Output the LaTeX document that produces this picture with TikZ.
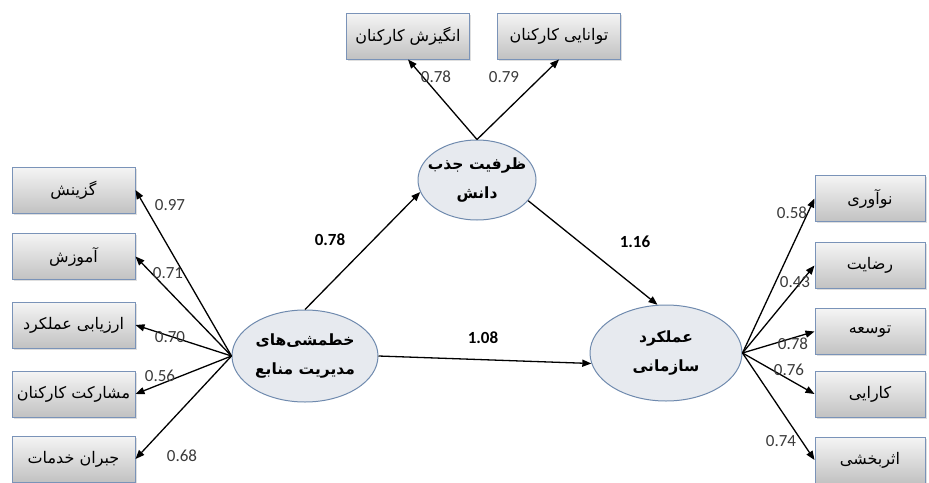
\documentclass[tikz,border=0pt]{standalone}
\usepackage{fontspec}
\setmainfont{Carlito}
\newfontfamily\fa[Script=Arabic]{DejaVu Sans}
\TeXXeTstate=1
\usetikzlibrary{arrows.meta,shadows,shapes.geometric}
\definecolor{boxline}{HTML}{7A93B8}
\definecolor{ellline}{HTML}{6F8AAE}
\definecolor{ellfill}{HTML}{E7EAEF}
\definecolor{numtext}{HTML}{3A3A3A}

\begin{document}
\begin{tikzpicture}[
		x=1pt,y=-1pt,
		box/.style={rectangle,draw=boxline,line width=1pt,top color=black!4,bottom color=black!24,
			minimum width=123pt,minimum height=46pt,inner sep=2pt,font=\fa\fontsize{16}{18}\selectfont,
			drop shadow={shadow xshift=1.5pt,shadow yshift=-1.5pt,opacity=0.25}},
		rbox/.style={box,minimum width=110pt},
		latent/.style={ellipse,draw=ellline,line width=1pt,fill=ellfill,inner sep=-10pt,align=center,
			font=\fa\bfseries\fontsize{15.5}{29}\selectfont},
		arr/.style={-{Triangle[length=9pt,width=7pt]},line width=1.3pt},
		lbl/.style={font=\fontsize{17}{18}\selectfont,text=numtext,inner sep=0pt},
		blbl/.style={font=\bfseries\fontsize{17}{18}\selectfont,inner sep=0pt}
		]
		\useasboundingbox (0,0) rectangle (929,482);
		
		\node[box] (mot) at (408,36) {\beginR انگیزش کارکنان\endR};
		\node[box] (abl) at (559,36) {\beginR توانایی کارکنان\endR};
		
		\node[box] (sel) at (73.5,190) {\beginR گزینش\endR};
		\node[box] (edu) at (73.5,256.5) {\beginR آموزش\endR};
		\node[box] (eva) at (73.5,325) {\beginR ارزیابی عملکرد\endR};
		\node[box] (par) at (73.5,394) {\beginR مشارکت کارکنان\endR};
		\node[box] (com) at (73.5,459) {\beginR جبران خدمات\endR};
		
		\node[rbox] (inn) at (870,198.5) {\beginR نوآوری\endR};
		\node[rbox] (sat) at (870,265.5) {\beginR رضایت\endR};
		\node[rbox] (dev) at (870,331.5) {\beginR توسعه\endR};
		\node[rbox] (eff) at (870,394) {\beginR کارایی\endR};
		\node[rbox] (imp) at (870,460) {\beginR اثربخشی\endR};
		
		\node[latent,minimum width=146pt,minimum height=92pt] (hrm) at (305,356)
			{\beginR خطمشی‌های\endR\\\beginR مدیریت منابع\endR};
		\node[latent,minimum width=118pt,minimum height=80pt] (kac) at (477,180)
			{\beginR ظرفیت جذب\endR\\\beginR دانش\endR};
		\node[latent,minimum width=152pt,minimum height=96pt] (opf) at (666,353)
			{\beginR عملکرد\endR\\\beginR سازمانی\endR};
		
		\draw[arr] (kac.north) -- (mot.south);
		\draw[arr] (kac.north) -- (abl.south);
		
		\draw[arr] (hrm.west) -- (sel.east);
		\draw[arr] (hrm.west) -- (edu.east);
		\draw[arr] (hrm.west) -- (eva.east);
		\draw[arr] (hrm.west) -- (par.east);
		\draw[arr] (hrm.west) -- (com.east);
		
		\draw[arr] (opf.east) -- (inn.west);
		\draw[arr] (opf.east) -- (sat.west);
		\draw[arr] (opf.east) -- (dev.west);
		\draw[arr] (opf.east) -- (eff.west);
		\draw[arr] (opf.east) -- (imp.west);
		
		\draw[arr] (hrm.north) -- (kac.192);
		\draw[arr] (kac.-22) -- (opf.100);
		\draw[arr] (hrm.east) -- (opf.188);
		
		\node[lbl] (lmot) at (436,77) {0.78};
		\node[lbl] (labl) at (504,77) {0.79};
		\node[lbl] (lsel) at (170,205) {0.97};
		\node[lbl] (ledu) at (168,273) {0.71};
		\node[lbl] (leva) at (170,337) {0.70};
		\node[lbl] (lpar) at (160,376) {0.56};
		\node[lbl] (lcom) at (182,456) {0.68};
		\node[lbl] (linn) at (792,213) {0.58};
		\node[lbl] (lsat) at (795,282) {0.43};
		\node[lbl] (ldev) at (793,344) {0.78};
		\node[lbl] (leff) at (789,370) {0.76};
		\node[lbl] (limp) at (781,441) {0.74};
		
		\node[blbl] (lhk) at (330,240) {0.78};
		\node[blbl] (lko) at (635,242) {1.16};
		\node[blbl] (lho) at (483,338) {1.08};
	\end{tikzpicture}
\end{document}
